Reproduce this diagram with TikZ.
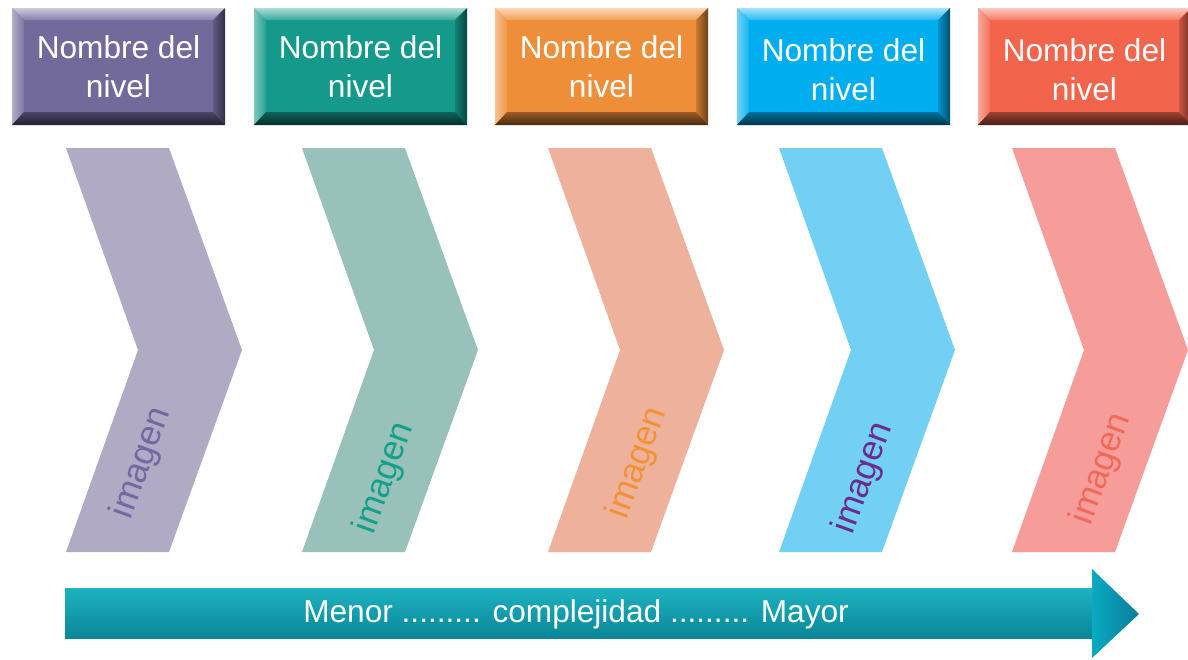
\documentclass[tikz,border=0pt]{standalone}
\usepackage{fontspec}
\setmainfont{Liberation Sans}
\definecolor{bxA}{HTML}{736A9C}
\definecolor{bxB}{HTML}{14998A}
\definecolor{bxC}{HTML}{EF8E38}
\definecolor{bxD}{HTML}{00AEEF}
\definecolor{bxE}{HTML}{F2644B}
\definecolor{chA}{HTML}{B0AAC4}
\definecolor{chB}{HTML}{98C1B9}
\definecolor{chC}{HTML}{EEB29C}
\definecolor{chD}{HTML}{72D0F5}
\definecolor{chE}{HTML}{F69D9A}
\definecolor{tA}{HTML}{7468A2}
\definecolor{tB}{HTML}{15A08A}
\definecolor{tC}{HTML}{F39235}
\definecolor{tD}{HTML}{6E2A8C}
\definecolor{tE}{HTML}{F06A5A}
\definecolor{arrT}{HTML}{1DB3C0}
\definecolor{arrM}{HTML}{03A3BE}
\definecolor{arrB}{HTML}{0A8698}
\definecolor{arrL}{HTML}{0AAAC2}
\definecolor{arrR}{HTML}{0A7C9A}
\begin{document}
\begin{tikzpicture}[x=0.02cm,y=-0.02cm,
  boxtext/.style={text=white,align=center,font=\fontsize{18}{22}\selectfont},
  imgtext/.style={rotate=70,font=\fontsize{20}{24}\selectfont},
  arrtext/.style={text=white,font=\fontsize{18}{22}\selectfont}]
\useasboundingbox (0,0) rectangle (1188,660);
% level boxes
\foreach \x/\c/\n/\ty in {12/bxA/b1/67,254/bxB/b2/67,495/bxC/b3/67,737/bxD/b4/70,978/bxE/b5/70}{
  \fill[\c] (\x,8) rectangle ({\x+213},125);
  \shade[top color=\c!35!white,bottom color=\c!85!white] (\x,8) -- ({\x+213},8) -- ({\x+201},20) -- ({\x+12},20) -- cycle;
  \shade[left color=\c!55!white,right color=\c!92!white] (\x,8) -- ({\x+12},20) -- ({\x+12},112) -- (\x,125) -- cycle;
  \shade[left color=\c!85!black,right color=\c!45!black] ({\x+213},8) -- ({\x+213},125) -- ({\x+201},112) -- ({\x+201},20) -- cycle;
  \shade[top color=\c!65!black,bottom color=\c!30!black] (\x,125) -- ({\x+213},125) -- ({\x+201},112) -- ({\x+12},112) -- cycle;
  \node[boxtext] (\n) at ({\x+106.5},\ty) {Nombre del\\nivel};
}
% chevrons
\foreach \L/\c in {66/chA,302/chB,548/chC,779/chD,1012/chE}{
  \fill[\c] (\L,148) -- ({\L+103},148) -- ({\L+176},350) -- ({\L+103},552) -- (\L,552) -- ({\L+72},350) -- cycle;
}
\node[imgtext,text=tA] (i1) at (142,463) {imagen};
\node[imgtext,text=tB] (i2) at (385,478) {imagen};
\node[imgtext,text=tC] (i3) at (638,463) {imagen};
\node[imgtext,text=tD] (i4) at (864,478) {imagen};
\node[imgtext,text=tE] (i5) at (1102,469) {imagen};
% complexity arrow
\shade[top color=arrT,middle color=arrM,bottom color=arrB] (65,588) rectangle (1094,638);
\shade[left color=arrL,right color=arrR] (1092,569) -- (1139,614) -- (1092,658) -- cycle;
\node[arrtext] (ar) at (576,614) {Menor ......... complejidad ......... Mayor};
\end{tikzpicture}
\end{document}
